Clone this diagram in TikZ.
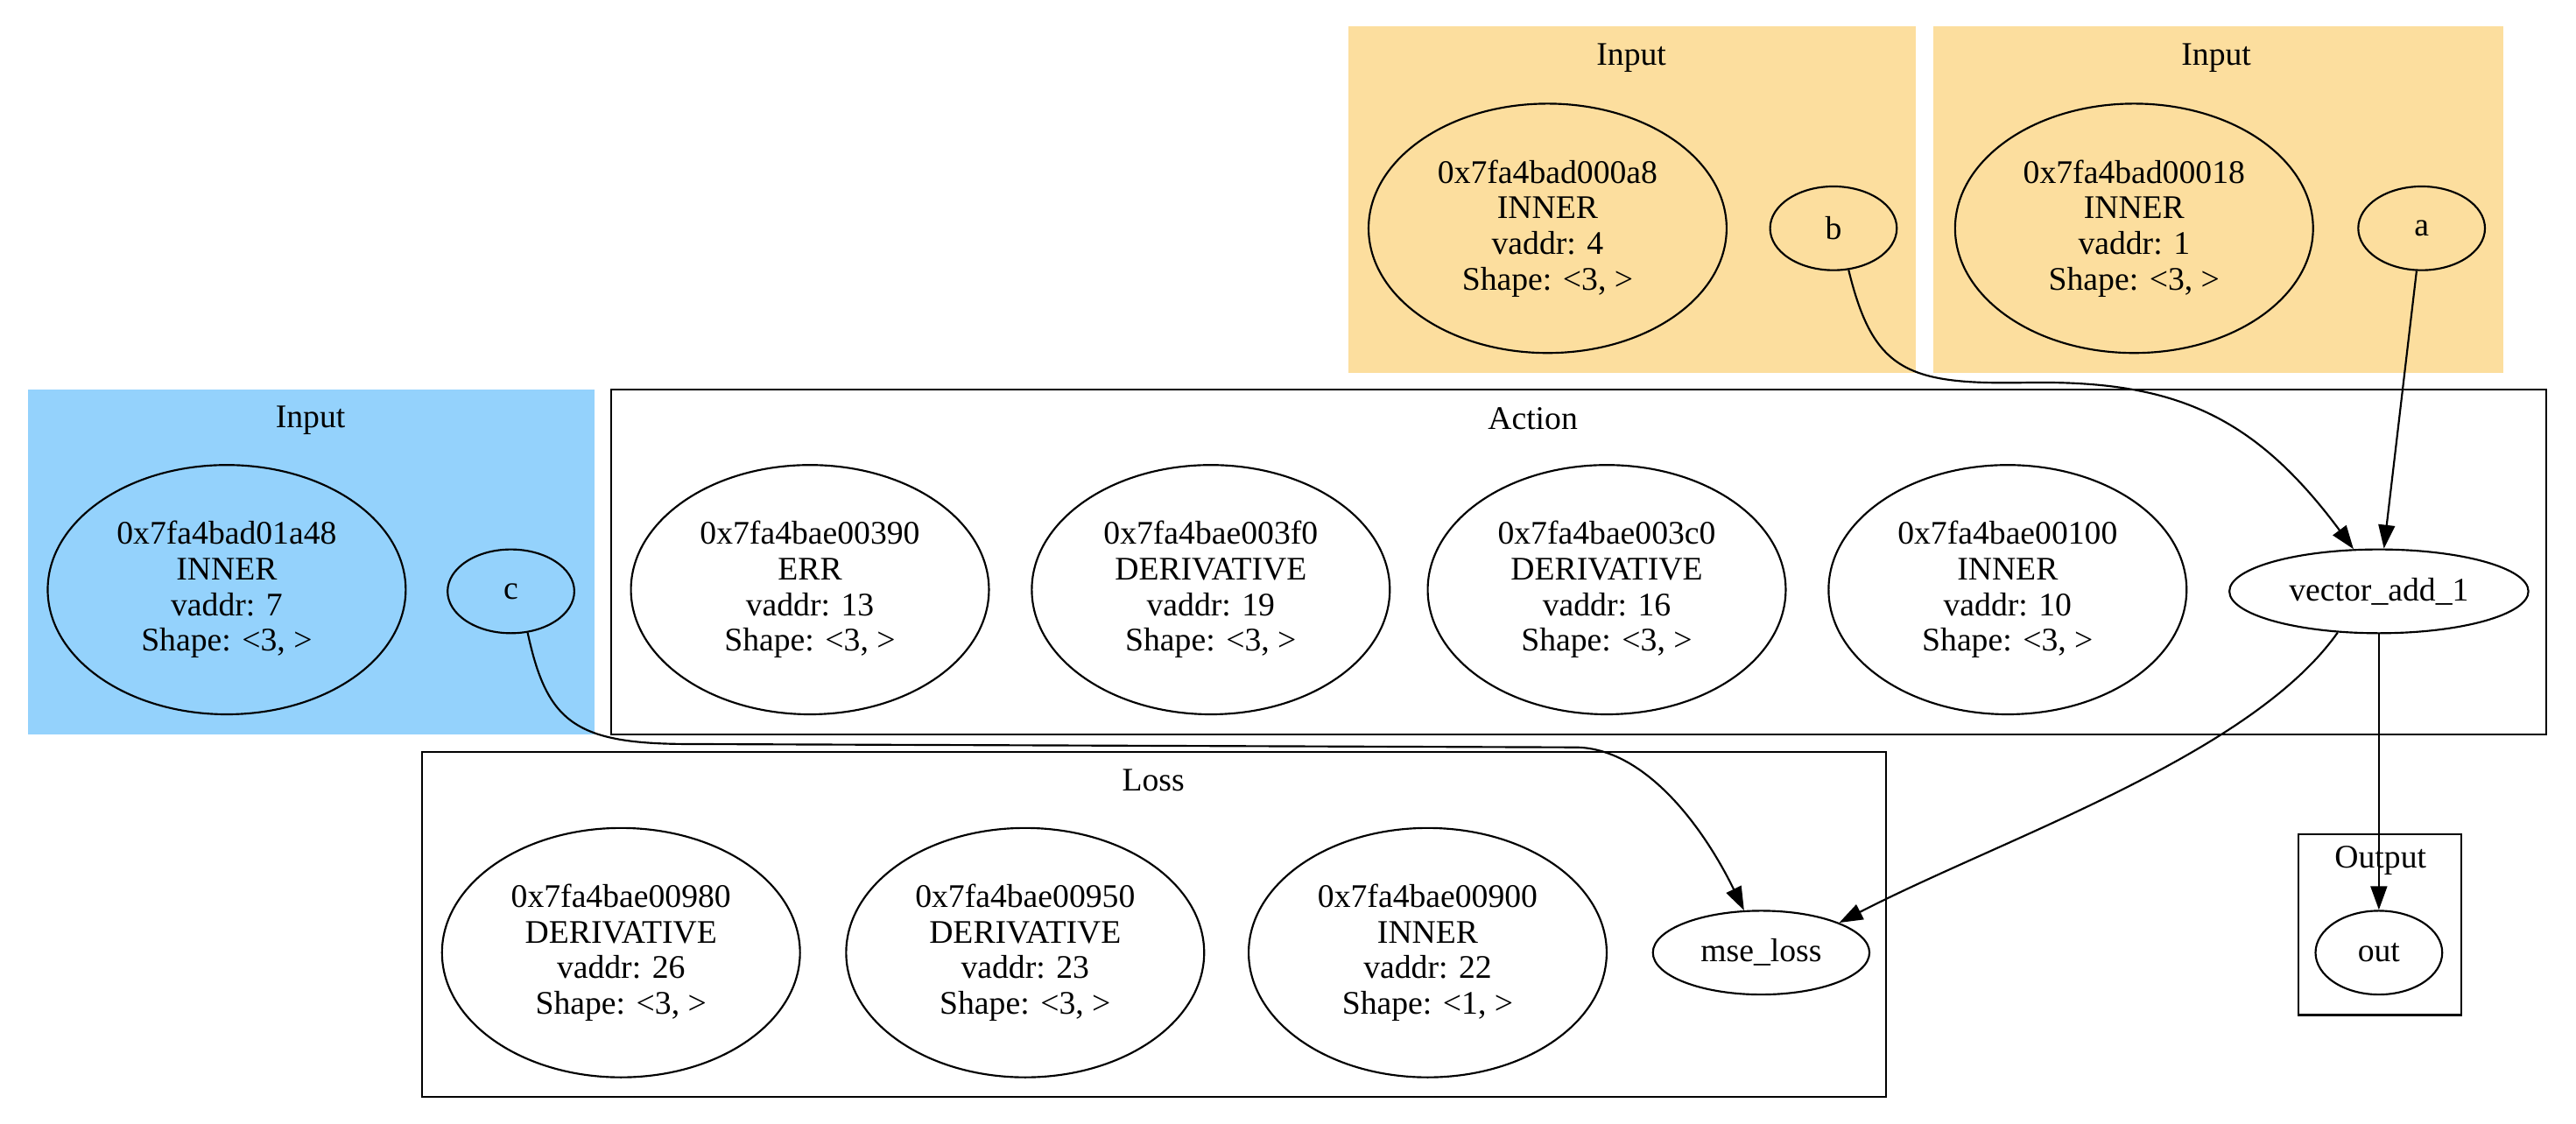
\documentclass[tikz,border=0pt]{standalone}
\usepackage{fontspec}
\setmainfont{Liberation Serif}
\usetikzlibrary{arrows.meta,shapes.geometric}
\definecolor{inblue}{RGB}{148,210,252}
\definecolor{inorange}{RGB}{252,222,158}
\tikzset{
  tensor/.style={ellipse, draw, minimum width=5.34cm, minimum height=3.72cm, inner sep=0pt, align=center},
  var/.style={ellipse, draw, minimum width=1.89cm, minimum height=1.25cm, inner sep=0pt},
  op/.style={ellipse, draw, minimum height=1.25cm, inner sep=0pt},
  edge/.style={-{Triangle[length=10pt,width=7pt]}},
}

\begin{document}
\begin{tikzpicture}[x=0.0245cm, y=-0.0245cm, line width=0.8pt, font=\fontsize{14}{15.1}\selectfont]
      \useasboundingbox (0,0) rectangle (1568,684);
      % clusters
      \fill[inblue] (17,237) rectangle (362,447);
      \fill[inorange] (821,16) rectangle (1166,227);
      \fill[inorange] (1177,16) rectangle (1524,227);
      \draw (372,237) rectangle (1550,447);
      \draw (257,458) rectangle (1148,668);
      \draw (1399,508) rectangle (1498,618);
      \node (inc) at (189,256) {Input};
      \node (act) at (933,255) {Action};
      \node (inb) at (993,35) {Input};
      \node (ina) at (1349,35) {Input};
      \node (loss) at (702,475) {Loss};
      \node (outp) at (1449,524) {Output};
      % inputs
      \node[tensor] (t01a48) at (138,359) {0x7fa4bad01a48\\INNER\\vaddr: 7\\Shape: <3, >};
      \node[var] (c) at (311,360) {c};
      \node[tensor] (t000a8) at (942,139) {0x7fa4bad000a8\\INNER\\vaddr: 4\\Shape: <3, >};
      \node[var] (b) at (1116,139) {b};
      \node[tensor] (t00018) at (1299,139) {0x7fa4bad00018\\INNER\\vaddr: 1\\Shape: <3, >};
      \node[var] (a) at (1474,139) {a};
      % action
      \node[tensor] (t00390) at (493,359) {0x7fa4bae00390\\ERR\\vaddr: 13\\Shape: <3, >};
      \node[tensor] (t003f0) at (737,359) {0x7fa4bae003f0\\DERIVATIVE\\vaddr: 19\\Shape: <3, >};
      \node[tensor] (t003c0) at (978,359) {0x7fa4bae003c0\\DERIVATIVE\\vaddr: 16\\Shape: <3, >};
      \node[tensor] (t00100) at (1222,359) {0x7fa4bae00100\\INNER\\vaddr: 10\\Shape: <3, >};
      \node[op, minimum width=4.46cm] (vadd) at (1448,360) {vector\_add\_1};
      % loss
      \node[tensor] (t00980) at (378,580) {0x7fa4bae00980\\DERIVATIVE\\vaddr: 26\\Shape: <3, >};
      \node[tensor] (t00950) at (624,580) {0x7fa4bae00950\\DERIVATIVE\\vaddr: 23\\Shape: <3, >};
      \node[tensor] (t00900) at (869,580) {0x7fa4bae00900\\INNER\\vaddr: 22\\Shape: <1, >};
      \node[op, minimum width=3.23cm] (mse) at (1072,580) {mse\_loss};
      \node[var] (out) at (1448,580) {out};
      % edges
      \draw[edge] (b.290) .. controls (1140,225) and (1160,234) .. (1230,233) .. controls (1320,231) and (1370,250) .. (vadd.121);
      \draw[edge] (a) -- (vadd);
      \draw[edge] (c.292) .. controls (333,440) and (350,453) .. (420,453) -- (960,455) .. controls (1000,456) and (1035,500) .. (mse.112);
      \draw[edge] (vadd.225) .. controls (1370,460) and (1220,510) .. (mse.21);
      \draw[edge] (vadd) -- (out);
   \end{tikzpicture}
\end{document}
